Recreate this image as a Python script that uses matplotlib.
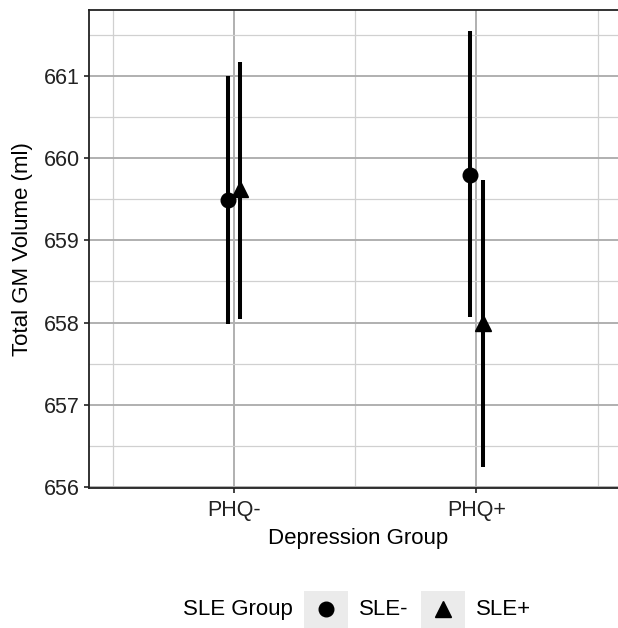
import matplotlib
matplotlib.use("Agg")
import matplotlib.pyplot as plt
from matplotlib.lines import Line2D
from matplotlib.patches import Rectangle
from matplotlib.ticker import MultipleLocator

plt.rcParams["font.family"] = ["Liberation Sans", "DejaVu Sans"]

GROUPS = ["PHQ-", "PHQ+"]
SLE = ["SLE-", "SLE+"]
MARKERS = {"SLE-": "o", "SLE+": "^"}
# means and 95% CI per SLE group, ordered as GROUPS
MEAN = {"SLE-": [659.49, 659.80], "SLE+": [659.63, 658.00]}
LOW = {"SLE-": [657.98, 658.07], "SLE+": [658.05, 656.25]}
HIGH = {"SLE-": [661.00, 661.55], "SLE+": [661.17, 659.73]}
DODGE = {"SLE-": -0.025, "SLE+": 0.025}

fig = plt.figure(figsize=(6.18, 6.28), dpi=100)
ax = fig.add_axes([0.144, 0.223, 0.87, 0.761])

for s in SLE:
    xs = [i + 1 + DODGE[s] for i in range(len(GROUPS))]
    ax.vlines(xs, LOW[s], HIGH[s], color="black", lw=2.9, zorder=3)
    ax.plot(xs, MEAN[s], ls="none", marker=MARKERS[s], color="black",
            ms=10.5 if s == "SLE-" else 11.5, zorder=4)

ax.set_xlim(0.4, 2.62)
ax.set_ylim(655.99, 661.8)
ax.set_xticks([1, 2])
ax.set_xticklabels(GROUPS)
ax.set_xticks([0.5, 1.5, 2.5], minor=True)
ax.yaxis.set_major_locator(MultipleLocator(1))
ax.yaxis.set_minor_locator(MultipleLocator(0.5))
ax.grid(which="major", color="#b0b0b0", lw=1.4)
ax.grid(which="minor", color="#d0d0d0", lw=0.9)
ax.set_axisbelow(True)
ax.tick_params(which="minor", length=0)
ax.tick_params(which="major", length=3.5, width=1.3, color="#333333",
               labelsize=15.5, labelcolor="#222222", pad=3)
ax.tick_params(axis="x", pad=5.5)
for side in ["left", "bottom", "top"]:
    ax.spines[side].set_color("#222222")
    ax.spines[side].set_linewidth(1.3)
ax.spines["right"].set_visible(False)

ax.set_xlabel("Depression Group", fontsize=16, labelpad=5)
ax.set_ylabel("Total GM Volume (ml)", fontsize=16, labelpad=8)

# legend drawn at the bottom, ggplot style
ly = 0.030
fig.text(183 / 618, ly, "SLE Group", fontsize=16, va="center", ha="left")
for s, x0, tx in [("SLE-", 304, 359), ("SLE+", 421, 476)]:
    fig.add_artist(Rectangle((x0 / 618, 0.0), 44 / 618, 37 / 628,
                             transform=fig.transFigure, color="#ebebeb", lw=0))
    fig.add_artist(Line2D([(x0 + 22) / 618], [ly], transform=fig.transFigure,
                          marker=MARKERS[s], color="black", ls="none",
                          ms=10.5 if s == "SLE-" else 11.5))
    fig.text(tx / 618, ly, s, fontsize=16, va="center", ha="left")

fig.savefig("out.png", dpi=100)
